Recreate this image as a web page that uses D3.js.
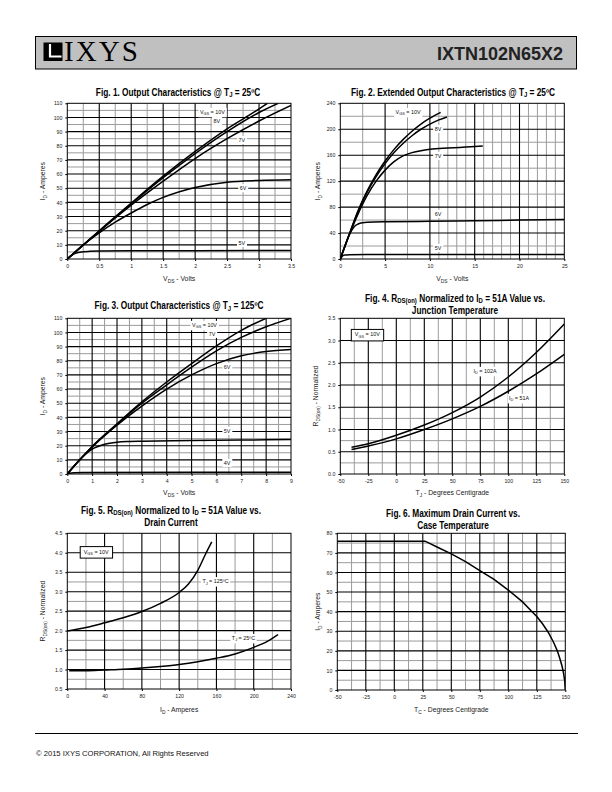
<!DOCTYPE html>
<html><head><meta charset="utf-8">
<script src="https://cdn.jsdelivr.net/npm/d3@7"></script>
<style>body{margin:0;background:#fff}svg{display:block}</style>
</head><body>
<script>
// ---------------- DATA ----------------
// Fig.1 Output characteristics @ TJ=25C  [VDS (V), ID (A)]
const f1XTicks = [0,0.5,1,1.5,2,2.5,3,3.5];
const f1YTicks = [0,10,20,30,40,50,60,70,80,90,100,110];
const f1_10V = [[0,0],[0.25,10],[0.5,20],[1,39.5],[1.5,58.5],[2,76],[2.5,92],[3,106],[3.13,110]];
const f1_8V  = [[0,0],[0.25,9.9],[0.5,19.7],[1,39],[1.5,57.5],[2,74.5],[2.5,90],[3,103.5],[3.3,110]];
const f1_7V  = [[0,0],[0.25,9.8],[0.5,19.5],[1,38],[1.5,55],[2,71],[2.5,85],[3,97.5],[3.5,108.5]];
const f1_6V  = [[0,0],[0.25,10],[0.5,18.5],[0.75,26],[1,32.5],[1.25,38.5],[1.5,43.5],[2,50.5],[2.5,54.3],[3,55.5],[3.5,56]];
const f1_5V  = [[0,0],[0.05,2],[0.1,3.5],[0.2,4.8],[0.35,5.4],[0.5,5.6],[1,5.8],[2,5.9],[3.5,6]];

// Fig.2 Extended output characteristics @ TJ=25C
const f2XTicks = [0,5,10,15,20,25];
const f2YTicks = [0,40,80,120,160,200,240];
const f2_10V = [[0,0],[1,38],[2,75],[3,105],[4,130],[5,151],[6,169],[7,184],[8,197],[9,208],[10,217],[11.2,226]];
const f2_8V  = [[0,0],[1,38],[2,74],[3,103],[4,127],[5,147],[6,164],[7,178],[8,190],[9,200],[10,208],[11,214.5],[11.9,219]];
const f2_7V  = [[0,0],[1,37],[2,70],[3,98],[4,120],[5,137],[6,150],[7,159],[8,164],[9,167],[10,169],[12,171],[14,172.5],[15.9,174]];
const f2_6V  = [[0,0],[0.5,20],[1,37],[1.5,49],[2,54],[2.5,56],[3,56.8],[5,57.5],[10,58],[15,59],[20,60],[25,61]];
const f2_5V  = [[0,0],[0.2,4],[0.5,6],[1,6.5],[3,7],[25,7]];

// Fig.3 Output characteristics @ TJ=125C
const f3XTicks = [0,1,2,3,4,5,6,7,8,9];
const f3YTicks = [0,10,20,30,40,50,60,70,80,90,100,110];
const f3_10V = [[0,0],[0.5,10],[1,19.5],[2,35.5],[3,51],[4,65],[5,78],[6,90.5],[7,101.5],[8,110]];
const f3_7V  = [[0,0],[0.5,10],[1,19.3],[2,35],[3,50],[4,63],[5,75.5],[6,87],[7,96.5],[8,104],[9,110]];
const f3_6V  = [[0,0],[0.5,10],[1,19],[2,34.5],[3,48],[4,60],[5,70],[6,78],[7,83.5],[8,86.5],[9,88]];
const f3_5V  = [[0,0],[0.5,10],[1,17.5],[1.5,21],[2,22.5],[2.5,23],[3,23.2],[5,23.7],[7,24],[9,24.3]];
const f3_4V  = [[0,0],[0.1,0.5],[0.3,0.9],[0.6,1.1],[9,1.2]];

// Fig.4 RDS(on) normalized vs junction temperature
const f4XTicks = [-50,-25,0,25,50,75,100,125,150];
const f4YTicks = [0,0.5,1,1.5,2,2.5,3,3.5];
const f4Temp  = [-40,-25,0,25,50,75,100,125,150];
const f4_102A = [0.60,0.68,0.87,1.10,1.38,1.73,2.18,2.73,3.37];
const f4_51A  = [0.55,0.63,0.79,1.00,1.24,1.52,1.86,2.25,2.69];

// Fig.5 RDS(on) normalized vs drain current
const f5XTicks = [0,40,80,120,160,200,240];
const f5YTicks = [0.5,1,1.5,2,2.5,3,3.5,4,4.5];
const f5I125 = [0,20,40,60,80,100,120,130,140,148,155];
const f5R125 = [1.99,2.08,2.2,2.33,2.49,2.7,2.98,3.2,3.55,3.95,4.28];
const f5I25  = [2,20,40,60,80,100,120,140,160,180,200,215,226];
const f5R25  = [0.97,0.97,0.99,1.01,1.04,1.08,1.13,1.2,1.29,1.4,1.57,1.73,1.9];

// Fig.6 Maximum drain current vs case temperature
const f6XTicks = [-50,-25,0,25,50,75,100,125,150];
const f6YTicks = [0,10,20,30,40,50,60,70,80];
const f6Temp = [-50,27,37.5,50,62.5,75,87.5,100,112.5,120,125,130,135,140,143,145,147,148.5,149.5,150];
const f6Id   = [76,76,73,69.5,65.5,61,56.5,51,45,40.5,37.5,33.8,29.5,24,20,16.5,12.5,8.5,4.5,0];

// ---------------- DRAWING ----------------
const FONT = "'Liberation Sans', Arial, Helvetica, sans-serif";
const svg = d3.select('body').append('svg').attr('width',612).attr('height',792)
  .style('font-family', FONT);

// text with _{subscript} markup
function rich(sel, str, fs, shift) {
  const parts = str.split(/_\{([^}]*)\}/);
  const sh = fs * (shift || 0.28);
  let pending = 0;
  parts.forEach((p, i) => {
    if (p === '') return;
    const ts = sel.append('tspan').text(p);
    if (i % 2 === 1) {
      ts.attr('font-size', fs * 0.72).attr('dy', sh);
      pending = -sh;
    } else if (pending) {
      ts.attr('dy', pending);
      pending = 0;
    }
  });
  return sel;
}

let clipId = 0;
function chart(o) {
  const g = svg.append('g');
  const x = d3.scaleLinear().domain(o.xDomain).range([o.L, o.R]);
  const y = d3.scaleLinear().domain(o.yDomain).range([o.B, o.T]);

  const vline = (arr, col, w) => g.append('g').selectAll('line').data(arr).join('line')
    .attr('x1', d => x(d)).attr('x2', d => x(d)).attr('y1', o.T).attr('y2', o.B)
    .attr('stroke', col).attr('stroke-width', w);
  const hline = (arr, col, w) => g.append('g').selectAll('line').data(arr).join('line')
    .attr('y1', d => y(d)).attr('y2', d => y(d)).attr('x1', o.L).attr('x2', o.R)
    .attr('stroke', col).attr('stroke-width', w);
  vline(o.xMinor, '#9b9b9b', 1); hline(o.yMinor, '#9b9b9b', 1);
  vline(o.xMajor, '#000', 1.1); hline(o.yMajor, '#000', 1.1);

  const bgG = g.append('g');
  const id = 'clip' + (clipId++);
  g.append('clipPath').attr('id', id).append('rect')
    .attr('x', o.L).attr('y', o.T).attr('width', o.R - o.L).attr('height', o.B - o.T);
  const line = d3.line().x(d => x(d[0])).y(d => y(d[1])).curve(o.curve || d3.curveMonotoneX);
  g.append('g').attr('clip-path', `url(#${id})`).selectAll('path').data(o.series).join('path')
    .attr('d', line).attr('fill', 'none').attr('stroke', '#000').attr('stroke-width', 1.5);

  g.append('rect').attr('x', o.L).attr('y', o.T).attr('width', o.R - o.L).attr('height', o.B - o.T)
    .attr('fill', 'none').attr('stroke', '#000').attr('stroke-width', 1);

  // curve labels
  const lblG = g.append('g');
  o.labels.forEach(l => {
    const fs = l.fs || 5.4;
    const t = lblG.append('text').attr('x', x(l.x)).attr('y', y(l.y) + fs * 0.35)
      .attr('text-anchor', 'middle').attr('font-size', fs).attr('fill', '#111');
    rich(t, l.t, fs);
    const bb = t.node().getBBox();
    const px = l.box ? 3.5 : 1.5, py = l.box ? 2 : 1;
    const r = (l.box ? lblG.insert('rect', 'text') : bgG.append('rect'));
    r.attr('x', bb.x - px).attr('y', bb.y - py)
      .attr('width', bb.width + 2 * px).attr('height', bb.height + 2 * py)
      .attr('fill', '#fff').attr('stroke', l.box ? '#000' : 'none').attr('stroke-width', 1);
  });

  // axes
  const ax = g.append('g').attr('transform', `translate(0,${o.B})`)
    .call(d3.axisBottom(x).tickValues(o.xTicks).tickFormat(o.xFmt).tickSize(2).tickPadding(3));
  const ay = g.append('g').attr('transform', `translate(${o.L},0)`)
    .call(d3.axisLeft(y).tickValues(o.yTicks).tickFormat(o.yFmt).tickSize(2).tickPadding(3));
  [ax, ay].forEach(a => {
    a.select('.domain').remove();
    a.selectAll('text').attr('font-size', 5.2).attr('fill', '#222').attr('font-family', FONT);
    a.selectAll('line').attr('stroke', '#000');
  });

  // titles (condensed bold look via horizontal scale)
  o.title.forEach((tt, i) => {
    const t = g.append('g').attr('transform', `translate(${o.titleX},${o.titleY[i]}) scale(0.83,1)`)
      .append('text').attr('x', 0).attr('y', 0)
      .attr('text-anchor', 'middle').attr('font-size', 10).attr('font-weight', 'bold')
      .attr('fill', '#000');
    rich(t, tt, 10, 0.16);
  });
  const xt = g.append('text').attr('x', (o.L + o.R) / 2).attr('y', o.xTitleY)
    .attr('text-anchor', 'middle').attr('font-size', 6.8).attr('fill', '#222');
  rich(xt, o.xTitle, 6.8);
  const yt = g.append('text').attr('transform', `translate(${o.yTitleX + 2.4},${(o.T + o.B) / 2}) rotate(-90)`)
    .attr('text-anchor', 'middle').attr('font-size', 6.8).attr('fill', '#222');
  rich(yt, o.yTitle, 6.8);
}

const zip = (a, b) => a.map((v, i) => [v, b[i]]);
const fmtInt = d => String(d);
const fmt1 = d => d.toFixed(1);

// Header
svg.append('rect').attr('x', 35.5).attr('y', 36.5).attr('width', 541).attr('height', 32.5)
  .attr('fill', '#c0c0c0').attr('stroke', '#000').attr('stroke-width', 1);
svg.append('rect').attr('x', 43.5).attr('y', 42.5).attr('width', 19).attr('height', 18.5).attr('fill', '#000');
svg.append('path').attr('d', 'M50,44 V56.5 H61.5').attr('fill', 'none').attr('stroke', '#fff').attr('stroke-width', 2.2);
svg.append('text').attr('x', 64).attr('y', 61).attr('font-family', "'Liberation Serif', 'Times New Roman', serif")
  .attr('font-size', 29).attr('textLength', 74).attr('lengthAdjust', 'spacing').attr('fill', '#000').text('IXYS');
svg.append('text').attr('x', 437).attr('y', 59.7).attr('font-size', 19).attr('font-weight', 'bold')
  .attr('textLength', 126).attr('lengthAdjust', 'spacingAndGlyphs').attr('fill', '#222').text('IXTN102N65X2');

// Fig 1
chart({
  L: 67.3, R: 291, T: 103.3, B: 259, xDomain: [0, 3.5], yDomain: [0, 110],
  xTicks: f1XTicks, yTicks: f1YTicks, xFmt: fmtInt, yFmt: fmtInt,
  xMajor: d3.range(0.5, 3.5, 0.5), xMinor: d3.range(0.25, 3.5, 0.5),
  yMajor: d3.range(10, 110, 10), yMinor: d3.range(5, 110, 10),
  series: [f1_10V, f1_8V, f1_7V, f1_6V, f1_5V],
  labels: [
    { t: 'V_{GS} = 10V', x: 2.27, y: 103.9 }, { t: '8V', x: 2.34, y: 97.5 },
    { t: '7V', x: 2.73, y: 84 }, { t: '6V', x: 2.75, y: 50 }, { t: '5V', x: 2.73, y: 11.3 }],
  title: ['Fig. 1. Output Characteristics @ T_{J} = 25ºC'], titleX: 178, titleY: [95.5],
  xTitle: 'V_{DS} - Volts', yTitle: 'I_{D} - Amperes', xTitleY: 281, yTitleX: 43
});

// Fig 2
chart({
  L: 340.3, R: 564.3, T: 103.3, B: 259, xDomain: [0, 25], yDomain: [0, 240],
  xTicks: f2XTicks, yTicks: f2YTicks, xFmt: fmtInt, yFmt: fmtInt,
  xMajor: [5, 10, 15, 20], xMinor: [2.5, 7.5, 11, 12, 13, 14, 16, 17, 18, 19, 21, 22, 23, 24],
  yMajor: [40, 80, 120, 160, 200], yMinor: [20, 60, 100, 140, 180, 220],
  series: [f2_10V, f2_8V, f2_7V, f2_6V, f2_5V],
  labels: [
    { t: 'V_{GS} = 10V', x: 7.56, y: 226.6 }, { t: '8V', x: 10.9, y: 200.4 },
    { t: '7V', x: 10.9, y: 158.8 }, { t: '6V', x: 10.9, y: 69.4 }, { t: '5V', x: 10.9, y: 17 }],
  title: ['Fig. 2. Extended Output Characteristics @ T_{J} = 25ºC'], titleX: 453, titleY: [95.5],
  xTitle: 'V_{DS} - Volts', yTitle: 'I_{D} - Amperes', xTitleY: 281, yTitleX: 318
});

// Fig 3
chart({
  L: 67.3, R: 291, T: 318.3, B: 474, xDomain: [0, 9], yDomain: [0, 110],
  xTicks: f3XTicks, yTicks: f3YTicks, xFmt: fmtInt, yFmt: fmtInt,
  xMajor: d3.range(1, 9, 1), xMinor: d3.range(0.5, 9, 1),
  yMajor: d3.range(10, 110, 10), yMinor: d3.range(5, 110, 10),
  series: [f3_10V, f3_7V, f3_6V, f3_5V, f3_4V],
  labels: [
    { t: 'V_{GS} = 10V', x: 5.52, y: 105.3 }, { t: '7V', x: 5.82, y: 98.9 },
    { t: '6V', x: 6.43, y: 75.6 }, { t: '5V', x: 6.43, y: 30.4 }, { t: '4V', x: 6.43, y: 7.8 }],
  title: ['Fig. 3. Output Characteristics @ T_{J} = 125ºC'], titleX: 179, titleY: [309],
  xTitle: 'V_{DS} - Volts', yTitle: 'I_{D} - Amperes', xTitleY: 495, yTitleX: 43
});

// Fig 4
chart({
  L: 340.3, R: 564.3, T: 318.3, B: 474, xDomain: [-50, 150], yDomain: [0, 3.5],
  xTicks: f4XTicks, yTicks: f4YTicks, xFmt: fmtInt, yFmt: fmt1,
  xMajor: d3.range(-25, 150, 25), xMinor: d3.range(-37.5, 150, 25),
  yMajor: d3.range(0.5, 3.5, 0.5), yMinor: [0.25, 0.75, 1.25],
  series: [zip(f4Temp, f4_102A), zip(f4Temp, f4_51A)],
  labels: [
    { t: 'V_{GS} = 10V', x: -25.9, y: 3.135, box: true },
    { t: 'I_{D} = 102A', x: 79.2, y: 2.315 }, { t: 'I_{D} = 51A', x: 109.6, y: 1.71 }],
  title: ['Fig. 4. R_{DS(on)} Normalized to I_{D} = 51A Value vs.', 'Junction Temperature'],
  titleX: 455, titleY: [301.5, 314],
  xTitle: 'T_{J} - Degrees Centigrade', yTitle: 'R_{DS(on)} - Normalized', xTitleY: 495, yTitleX: 316
});

// Fig 5
chart({
  L: 67.3, R: 291, T: 533.3, B: 689, xDomain: [0, 240], yDomain: [0.5, 4.5],
  xTicks: f5XTicks, yTicks: f5YTicks, xFmt: fmtInt, yFmt: fmt1,
  xMajor: d3.range(40, 240, 40), xMinor: d3.range(20, 240, 40),
  yMajor: d3.range(1, 4.5, 0.5), yMinor: d3.range(0.75, 3.5, 0.5),
  series: [zip(f5I125, f5R125), zip(f5I25, f5R25)],
  labels: [
    { t: 'V_{GS} = 10V', x: 31, y: 4.027, box: true },
    { t: 'T_{J} = 125ºC', x: 159, y: 3.27 }, { t: 'T_{J} = 25ºC', x: 189, y: 1.81 }],
  title: ['Fig. 5. R_{DS(on)} Normalized to I_{D} = 51A Value vs.', 'Drain Current'],
  titleX: 171, titleY: [513.5, 526],
  xTitle: 'I_{D} - Amperes', yTitle: 'R_{DS(on)} - Normalized', xTitleY: 712, yTitleX: 43
});

// Fig 6
chart({
  L: 337.3, R: 565.3, T: 533.3, B: 690, xDomain: [-50, 150], yDomain: [0, 80],
  xTicks: f6XTicks, yTicks: f6YTicks, xFmt: fmtInt, yFmt: fmtInt,
  xMajor: d3.range(-25, 150, 25), xMinor: d3.range(-37.5, 150, 25),
  yMajor: d3.range(10, 80, 10), yMinor: d3.range(5, 80, 10),
  series: [zip(f6Temp, f6Id)], curve: d3.curveLinear,
  labels: [],
  title: ['Fig. 6. Maximum Drain Current vs.', 'Case Temperature'],
  titleX: 453, titleY: [517, 529],
  xTitle: 'T_{C} - Degrees Centigrade', yTitle: 'I_{D} - Amperes', xTitleY: 712, yTitleX: 318
});

// Footer
svg.append('line').attr('x1', 35).attr('x2', 578).attr('y1', 733.5).attr('y2', 733.5)
  .attr('stroke', '#000').attr('stroke-width', 1);
svg.append('text').attr('x', 36).attr('y', 755.5).attr('font-size', 7.6).attr('fill', '#111')
  .text('© 2015 IXYS CORPORATION, All Rights Reserved');
</script>
</body></html>
